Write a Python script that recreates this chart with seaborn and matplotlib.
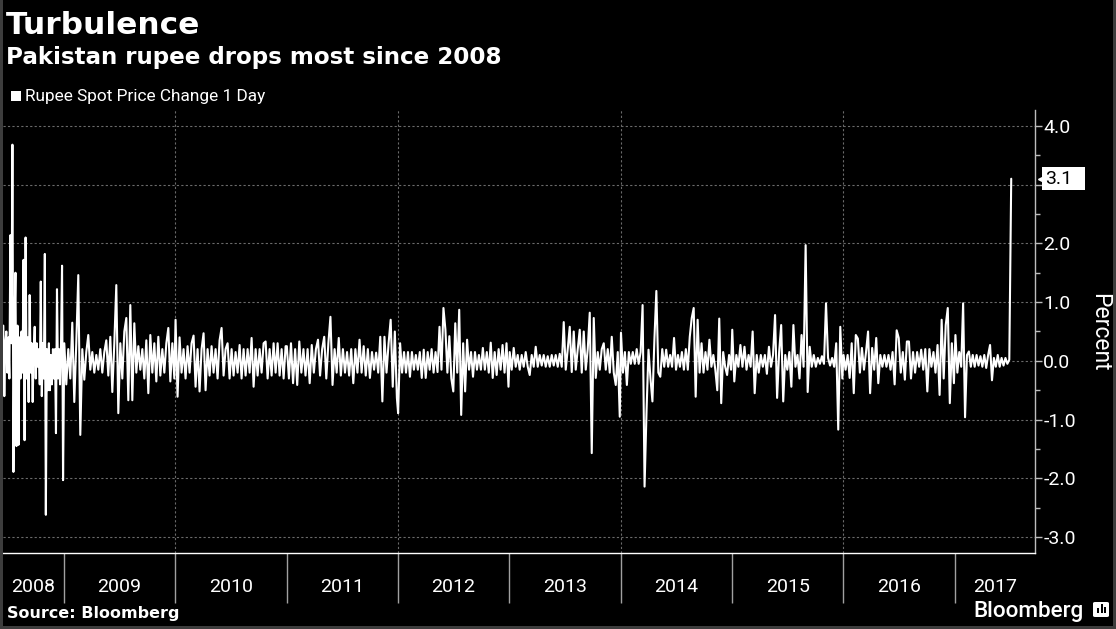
import numpy as np
import pandas as pd
import matplotlib
matplotlib.use("Agg")
import matplotlib.pyplot as plt
import matplotlib.dates as mdates
from matplotlib.patches import Rectangle, FancyBboxPatch
import seaborn as sns

# ---------------- text ----------------
title = "Turbulence"
subtitle = "Pakistan rupee drops most since 2008"
series_name = "Rupee Spot Price Change 1 Day"
source_text = "Source: Bloomberg"
brand = "Bloomberg"
y_label = "Percent"
last_label = "3.1"
last_value = 3.1

year_labels = ["2008", "2009", "2010", "2011", "2012", "2013", "2014", "2015", "2016", "2017"]
grid_years = [2010, 2012, 2014, 2016]
yticks = [4.0, 3.0, 2.0, 1.0, 0.0, -1.0, -2.0, -3.0]
ytick_labels = ["4.0", "", "2.0", "1.0", "0.0", "-1.0", "-2.0", "-3.0"]
yminor = [3.5, 2.5, 1.5, 0.5, -0.5, -1.5, -2.5]

# ---------------- data (percent change) ----------------
v2008 = [0.6, -0.6, 0.3, 0.5, -0.2, 0.4, -0.3, 2.14, 0.3, 3.68, -1.89, 0.6, 1.5, -1.45, 0.6,
         -1.43, 0.4, -0.3, 0.5, -0.2, 1.72, -1.35, 2.1, -0.3, 0.4, -0.7, 1.12, -0.2, 0.3, -0.7,
         0.2, 0.58, -0.3, 0.3, -0.1, 0.2, -0.4, 1.35, -0.6, 0.3, -0.3, 1.82, -2.62, 0.2, -0.5,
         0.3, -0.5, 0.1, -0.4, 0.2, -0.3, 0.2, -1.23, 1.22, -0.3, 0.2, -0.4, 0.3, 1.62, -2.03]
v2009 = [0.3, -0.4, 0.2, -0.3, 0.65, -0.7, 0.3, 1.46, -1.26, 0.2, -0.32, 0.15, 0.44, -0.15,
         0.15, -0.2, 0.1, -0.15, 0.2, -0.2, 0.15, 0.35, -0.25, 0.41, -0.53, 0.3, 1.29, -0.89,
         0.3, -0.3, 0.5, 0.73, -0.67, 0.95, -0.67, 0.64, -0.2, 0.25, -0.15, 0.2, -0.3, 0.35,
         -0.55, 0.44, -0.2, 0.3, -0.35, 0.41, -0.25, 0.2, -0.2, 0.3, 0.56, -0.35, 0.3, -0.3]
v2010 = [0.7, -0.61, 0.4, -0.2, 0.2, -0.3, 0.25, -0.2, 0.3, 0.43, -0.44, 0.2, -0.52, 0.2,
         0.47, -0.5, 0.2, -0.25, 0.25, -0.2, 0.2, -0.3, 0.35, 0.56, -0.25, 0.2, 0.3, -0.3,
         0.2, -0.25, 0.15, -0.2, 0.27, -0.3, 0.2, -0.25, 0.2, -0.2, 0.39, -0.44, 0.2, -0.25,
         0.2, -0.2, 0.3, 0.33, -0.3, 0.2, -0.25, 0.3, -0.2, 0.3, -0.25, 0.2, -0.3, 0.25]
v2011 = [0.25, -0.3, 0.3, -0.38, 0.2, -0.41, 0.33, -0.2, 0.2, -0.25, 0.2, -0.38, 0.27, -0.2,
         0.2, 0.36, -0.25, 0.2, 0.41, -0.3, 0.3, 0.75, -0.41, 0.2, -0.2, 0.39, -0.25, 0.2,
         -0.2, 0.15, -0.25, 0.2, -0.38, 0.2, -0.2, 0.36, -0.2, 0.25, -0.25, 0.2, -0.29, 0.15,
         -0.15, 0.14, -0.2, 0.41, -0.69, 0.41, -0.2, 0.3, 0.7, -0.44, 0.5, -0.63]
v2012 = [-0.89, 0.3, -0.2, 0.15, -0.2, 0.15, -0.27, 0.15, -0.15, 0.1, -0.15, 0.15, -0.29,
         0.19, -0.29, 0.15, -0.15, 0.2, -0.2, 0.15, -0.19, 0.58, -0.15, 0.9, 0.53, -0.2, 0.42,
         -0.3, -0.52, 0.64, -0.2, 0.87, -0.92, 0.3, -0.52, 0.36, -0.15, 0.15, -0.27, 0.15,
         -0.15, 0.1, -0.15, 0.22, -0.15, 0.15, -0.2, 0.31, -0.29, 0.15, -0.24, 0.2, -0.15,
         0.27, -0.2, 0.3, -0.44]
v2013 = [0.15, -0.15, 0.22, -0.1, 0.1, -0.15, 0.1, -0.1, 0.15, -0.1, -0.24, 0.1, -0.1, 0.24,
         -0.1, 0.1, -0.08, 0.1, -0.1, 0.08, -0.1, 0.1, -0.08, 0.1, -0.1, 0.12, -0.1, 0.66,
         -0.15, 0.2, 0.58, -0.19, 0.5, -0.15, 0.2, 0.53, -0.2, 0.5, -0.15, 0.2, 0.82, -1.57,
         0.73, -0.29, 0.15, -0.15, 0.2, 0.3, -0.15, 0.2, -0.2, 0.41, -0.2, -0.41, 0.15, -0.95]
v2014 = [0.48, -0.2, 0.15, -0.41, 0.15, -0.05, 0.15, -0.05, 0.2, -0.05, 0.15, 0.95, -2.14,
         -0.86, 0.19, -0.3, -0.69, 0.36, 1.19, -0.2, -0.27, 0.2, -0.1, 0.19, -0.1, 0.1, -0.1,
         0.39, -0.15, 0.1, -0.1, 0.15, -0.15, 0.2, -0.15, 0.41, 0.73, 0.9, -0.61, 0.7, -0.2,
         0.3, -0.2, 0.15, -0.15, 0.36, -0.1, 0.1, -0.15, -0.5, 0.72, -0.72, 0.15, -0.1, -0.24,
         0.1, -0.15]
v2015 = [0.53, -0.35, 0.1, -0.1, 0.27, -0.1, 0.24, -0.15, 0.1, -0.1, 0.5, -0.55, 0.1, -0.2,
         0.1, -0.1, 0.1, -0.22, 0.24, -0.1, 0.1, 0.78, -0.63, 0.15, 0.61, -0.69, 0.1, -0.15,
         0.15, -0.44, 0.61, -0.1, 0.1, -0.3, 0.44, -0.1, 1.97, -0.53, 0.24, -0.1, 0.1, -0.1,
         0.05, -0.05, 0.08, -0.05, 0.98, 0.05, -0.08, 0.05, -0.1, 0.3, -1.17, 0.58, -0.3]
v2016 = [0.1, -0.15, 0.1, -0.29, 0.3, -0.55, 0.44, 0.38, -0.2, 0.22, -0.15, 0.15, 0.5, -0.55,
         0.22, -0.15, 0.39, -0.38, 0.1, -0.1, 0.1, -0.1, 0.1, -0.15, 0.15, -0.4, 0.52, 0.39,
         -0.2, 0.15, -0.32, 0.33, 0.33, -0.3, 0.15, -0.2, 0.15, -0.1, 0.19, -0.15, 0.2, -0.52,
         0.2, -0.1, 0.15, -0.2, 0.27, -0.58, 0.7, -0.3, 0.61, 0.9, -0.72, 0.3, -0.38]
v2017 = [0.44, -0.2, 0.15, -0.1, 0.98, -0.96, 0.1, 0.16, -0.1, 0.1, -0.1, 0.1, -0.08, 0.08,
         -0.1, 0.1, -0.12, 0.1, 0.27, -0.33, 0.05, -0.1, 0.1, -0.1, 0.05, -0.08, 0.05, -0.05,
         0.02, last_value]

segments = [
    ("2008-06-16", "2008-12-29", v2008),
    ("2009-01-02", "2009-12-29", v2009),
    ("2010-01-02", "2010-12-29", v2010),
    ("2011-01-02", "2011-12-29", v2011),
    ("2012-01-02", "2012-12-29", v2012),
    ("2013-01-02", "2013-12-29", v2013),
    ("2014-01-02", "2014-12-29", v2014),
    ("2015-01-02", "2015-12-29", v2015),
    ("2016-01-02", "2016-12-29", v2016),
    ("2017-01-03", "2017-07-05", v2017),
]
frames = []
for start, end, vals in segments:
    frames.append(pd.DataFrame({"date": pd.date_range(start, end, periods=len(vals)),
                                "value": vals}))
df = pd.concat(frames, ignore_index=True)

x_start = pd.Timestamp("2008-06-15")
x_end = pd.Timestamp("2017-09-21")

# ---------------- style ----------------
sns.set_style("dark", {"axes.grid": False})
plt.rcParams["font.family"] = ["Roboto", "DejaVu Sans"]
plt.rcParams["axes.unicode_minus"] = False

W, H = 1116, 629
fig = plt.figure(figsize=(W / 100, H / 100), dpi=100, facecolor="black")
ax = fig.add_axes([3 / W, 1 - 553 / H, (1035 - 3) / W, (553 - 110) / H])
ax.set_facecolor("black")

sns.lineplot(data=df, x="date", y="value", color="white", linewidth=1.5,
             estimator=None, ax=ax, zorder=5)

ax.set_xlim(x_start, x_end)
ax.set_ylim(-3.27, 4.27)
ax.set_xlabel("")
ax.set_ylabel("")

# spines
for s in ["left", "top"]:
    ax.spines[s].set_visible(False)
ax.spines["right"].set_color("#bdbdbd")
ax.spines["right"].set_linewidth(1.0)
ax.spines["bottom"].set_color("white")
ax.spines["bottom"].set_linewidth(1.0)

# y axis on right
ax.yaxis.tick_right()
ax.set_yticks(yticks)
ax.set_yticklabels(ytick_labels)
ax.set_yticks(yminor, minor=True)
ax.tick_params(axis="y", which="major", direction="out", length=5, width=1.0,
               color="#bdbdbd", labelcolor="white", labelsize=14, pad=1)
ax.tick_params(axis="y", which="minor", direction="out", length=3.5, width=1.0,
               color="#bdbdbd", right=True, left=False)

# x axis: separators at year starts, labels centred in each year segment
lo, hi = mdates.date2num(x_start), mdates.date2num(x_end)
bounds = [mdates.date2num(pd.Timestamp(f"{y}-01-01")) for y in range(2009, 2018)]
edges = [lo] + bounds + [hi]
mids = [(edges[i] + edges[i + 1]) / 2 for i in range(len(edges) - 1)]
ax.set_xticks(mids)
ax.set_xticklabels(year_labels)
ax.set_xticks(bounds, minor=True)
ax.tick_params(axis="x", which="major", length=0, labelcolor="white", labelsize=14, pad=18)
ax.tick_params(axis="x", which="minor", direction="out", length=36, width=1.0,
               color="#a0a0a0", bottom=True)

# grid: horizontal at every integer, vertical every second year
grid_kw = dict(color="#6a6a6a", linewidth=0.8, linestyle=(0, (2, 2)))
ax.grid(False, axis="x", which="both")
ax.grid(False, axis="y", which="minor")
ax.grid(True, axis="y", which="major", **grid_kw)
for gy in grid_years:
    ax.axvline(pd.Timestamp(f"{gy}-01-01"), zorder=1, **grid_kw)

# last value tag
ytr = ax.get_yaxis_transform()
ax.add_patch(Rectangle((1.0068, last_value - 0.195), 0.0417, 0.39, transform=ytr,
                       facecolor="white", edgecolor="none", clip_on=False, zorder=19))
ax.text(1.0095, last_value, last_label, transform=ytr, ha="left", va="center",
        fontsize=14, color="black", zorder=20, clip_on=False)
ax.plot([1.0055], [last_value], marker="<", markersize=5, color="white",
        transform=ytr, clip_on=False, zorder=21)

# titles
fig.text(6 / W, 1 - 34 / H, title, fontsize=22.5, fontweight="bold", color="white",
         family="DejaVu Sans", ha="left", va="baseline")
fig.text(6 / W, 1 - 64 / H, subtitle, fontsize=16.6, fontweight="bold", color="white",
         family="DejaVu Sans", ha="left", va="baseline")

# legend
fig.patches.append(Rectangle((11 / W, 1 - 101 / H), 10 / W, 10 / H, transform=fig.transFigure,
                             facecolor="white", edgecolor="none"))
fig.text(25 / W, 1 - 101 / H, series_name, fontsize=12.4, color="white",
         ha="left", va="baseline")

# y label
fig.text(1100 / W, 1 - 332 / H, y_label, fontsize=16.5, color="white", rotation=270,
         ha="center", va="center")

# source
fig.text(7 / W, 1 - 618 / H, source_text, fontsize=11.5, fontweight="bold", color="white",
         family="DejaVu Sans", ha="left", va="baseline")

# brand
fig.text(973 / W, 1 - 617 / H, brand, fontsize=16.2, fontweight="medium", color="white",
         ha="left", va="baseline")
fig.patches.append(FancyBboxPatch((1093 / W, 1 - 617 / H), 16 / W, 15 / H,
                                  boxstyle="round,pad=0,rounding_size=0.002",
                                  transform=fig.transFigure, facecolor="white",
                                  edgecolor="none"))
for bx, bh in [(1097, 5), (1100.5, 9), (1104, 6)]:
    fig.patches.append(Rectangle((bx / W, 1 - 613 / H), 2 / W, bh / H,
                                 transform=fig.transFigure, facecolor="black",
                                 edgecolor="none"))

# outer frame
for rect in [(0, 0, 3 / W, 1), (1 - 3 / W, 0, 3 / W, 1), (0, 0, 1, 3 / H)]:
    fig.patches.append(Rectangle(rect[:2], rect[2], rect[3], transform=fig.transFigure,
                                 facecolor="#3d3d3d", edgecolor="none", zorder=30))

fig.savefig("out.png", dpi=100, facecolor="black")
